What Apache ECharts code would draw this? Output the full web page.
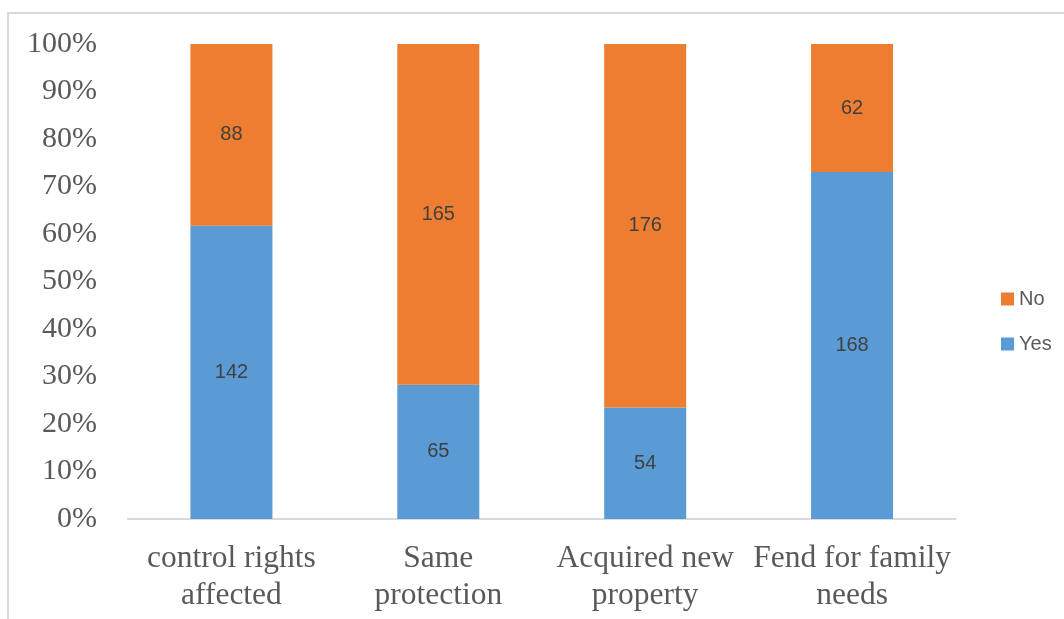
<!DOCTYPE html>
<html>
<head>
<meta charset="utf-8">
<script src="https://cdn.jsdelivr.net/npm/echarts@6/dist/echarts.min.js"></script>
<style>
  html, body { margin: 0; padding: 0; background: #fff; }
  #chart { width: 1064px; height: 619px; }
</style>
</head>
<body>
<div id="chart"></div>
<script>
const categories = ["control rights\naffected", "Same\nprotection", "Acquired new\nproperty", "Fend for family\nneeds"];
const yesCounts = [142, 65, 54, 168];
const noCounts = [88, 165, 176, 62];

// 100% stacked: each bar is the share of its column total, label keeps the count
function shares(counts) {
  return counts.map((c, i) => ({
    value: (c / (yesCounts[i] + noCounts[i])) * 100,
    count: c,
  }));
}

const serif = "'Liberation Serif', 'Times New Roman', serif";
const sans = "'Liberation Sans', Arial, sans-serif";

const chart = echarts.init(document.getElementById("chart"), null, { renderer: "canvas" });

const barLabel = {
  show: true,
  position: "inside",
  color: "#404040",
  fontSize: 20,
  fontFamily: sans,
  formatter: (p) => p.data.count,
};

chart.setOption({
  animation: false,
  backgroundColor: "#fff",
  graphic: [
    {
      type: "rect",
      shape: { x: 8, y: 13, width: 1100, height: 700 },
      style: { fill: "none", stroke: "#d9d9d9", lineWidth: 2 },
      silent: true,
    },
  ],
  grid: { left: 128, right: 108.5, top: 44, bottom: 100 },
  legend: {
    orient: "vertical",
    left: 996,
    top: 284,
    itemWidth: 13,
    itemHeight: 13,
    itemGap: 25,
    icon: "rect",
    data: ["No", "Yes"],
    textStyle: { color: "#595959", fontSize: 20, lineHeight: 20, fontFamily: sans },
  },
  xAxis: {
    type: "category",
    data: categories,
    axisTick: { show: false },
    axisLine: { lineStyle: { color: "#d9d9d9", width: 2 } },
    axisLabel: {
      color: "#595959",
      fontSize: 31.5,
      lineHeight: 37,
      fontFamily: serif,
      margin: 21,
      interval: 0,
    },
  },
  yAxis: {
    type: "value",
    min: 0,
    max: 100,
    interval: 10,
    axisLine: { show: false },
    axisTick: { show: false },
    splitLine: { show: false },
    axisLabel: {
      color: "#595959",
      fontSize: 30,
      fontFamily: serif,
      margin: 31,
      formatter: "{value}%",
    },
  },
  series: [
    {
      name: "Yes",
      type: "bar",
      stack: "total",
      barWidth: 82,
      data: shares(yesCounts),
      itemStyle: { color: "#5b9bd5" },
      label: barLabel,
    },
    {
      name: "No",
      type: "bar",
      stack: "total",
      barWidth: 82,
      data: shares(noCounts),
      itemStyle: { color: "#ed7d31" },
      label: barLabel,
    },
  ],
});
</script>
</body>
</html>
